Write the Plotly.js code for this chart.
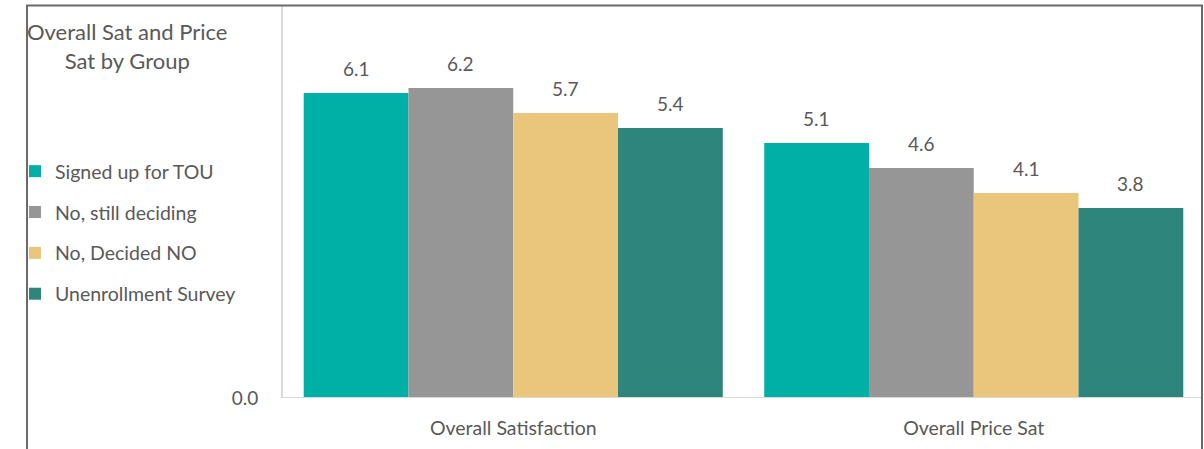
<!DOCTYPE html>
<html>
<head>
<meta charset="utf-8">
<script src="https://cdn.plot.ly/plotly-3.0.1.min.js"></script>
<style>
  html, body { margin: 0; padding: 0; background: #fff; }
  #chart { width: 1204px; height: 449px; }
</style>
</head>
<body>
<div id="chart"></div>
<script>
// Survey measures and the respondent groups compared on each
const categories = ["Overall Satisfaction", "Overall Price Sat"];
const groupNames = ["Signed up for TOU", "No, still deciding", "No, Decided NO", "Unenrollment Survey"];
const signedUp   = [6.1, 5.1];
const deciding   = [6.2, 4.6];
const decidedNo  = [5.7, 4.1];
const unenrolled = [5.4, 3.8];
const groupColors = ["#00AFA5", "#969696", "#E9C67B", "#2E857C"];

const seriesValues = [signedUp, deciding, decidedNo, unenrolled];
const FONT = "Lato, 'Open Sans', sans-serif";
const TEXT = "#595959";
const BARGAP = 0.09;

// plot area geometry (pixels)
const PL = 283, PW = 921, PT = 6, PH = 392;
const px = X => (X - PL) / PW;          // page x -> paper x
const py = Y => (PT + PH - Y) / PH;     // page y -> paper y

const traces = seriesValues.map((vals, k) => ({
  type: "bar",
  name: groupNames[k],
  legendgroup: "g" + k,
  x: categories,
  y: vals,
  marker: { color: groupColors[k], line: { width: 0 } },
  hoverinfo: "x+y+name"
}));

// Value labels placed over each bar's centre in the grouped layout
const nSeries = seriesValues.length;
const barW = (1 - BARGAP) / nSeries;
const annotations = [];
seriesValues.forEach((vals, k) => {
  const offset = -(1 - BARGAP) / 2 + barW * (k + 0.5);
  vals.forEach((v, i) => {
    annotations.push({
      x: i + offset, y: v, xref: "x", yref: "y",
      text: v.toFixed(1), showarrow: false,
      yanchor: "bottom", yshift: 11,
      font: { family: FONT, size: 19, color: TEXT }
    });
  });
});

// Chart title in the upper-left corner
annotations.push({
  xref: "paper", yref: "paper",
  x: px(127), y: py(46),
  xanchor: "center", yanchor: "middle", align: "center",
  text: "Overall Sat and Price<br>Sat by Group", showarrow: false,
  font: { family: FONT, size: 22, color: TEXT }
});

const layout = {
  width: 1204, height: 449,
  margin: { l: PL, r: 1204 - PL - PW, t: PT, b: 449 - PT - PH, pad: 0 },
  paper_bgcolor: "#ffffff", plot_bgcolor: "#ffffff",
  barmode: "group", bargap: BARGAP, bargroupgap: 0,
  showlegend: true,
  legend: {
    x: px(15), xanchor: "left",
    y: py(152), yanchor: "top",
    traceorder: "grouped", tracegroupgap: 12.5,
    font: { family: FONT, size: 19.5, color: TEXT },
    bgcolor: "rgba(0,0,0,0)", borderwidth: 0
  },
  xaxis: {
    type: "category",
    showgrid: false, zeroline: false,
    showline: false, ticks: "",
    tickfont: { family: FONT, size: 19.5, color: TEXT },
    ticklabelstandoff: 16
  },
  yaxis: {
    range: [0, PH / 50],
    showgrid: false, zeroline: false,
    showline: true, linecolor: "#d9d9d9", linewidth: 2,
    tickvals: [0], ticktext: ["0.0"], ticks: "",
    tickfont: { family: FONT, size: 19, color: TEXT },
    ticklabelstandoff: 19
  },
  shapes: [
    // baseline of the plot area
    { type: "line", xref: "paper", yref: "y", x0: 0, x1: px(1201), y0: 0, y1: 0,
      line: { color: "#d9d9d9", width: 2 } },
    // outer frame around the whole chart
    { type: "path", xref: "paper", yref: "paper",
      path: "M " + px(27) + " " + py(470) + " L " + px(27) + " " + py(5.5) +
            " L " + px(1202) + " " + py(5.5) + " L " + px(1202) + " " + py(470),
      line: { color: "#6b6b6b", width: 2 } }
  ],
  annotations: annotations
};

Plotly.newPlot("chart", traces, layout, { displayModeBar: false, staticPlot: true });
</script>
</body>
</html>
